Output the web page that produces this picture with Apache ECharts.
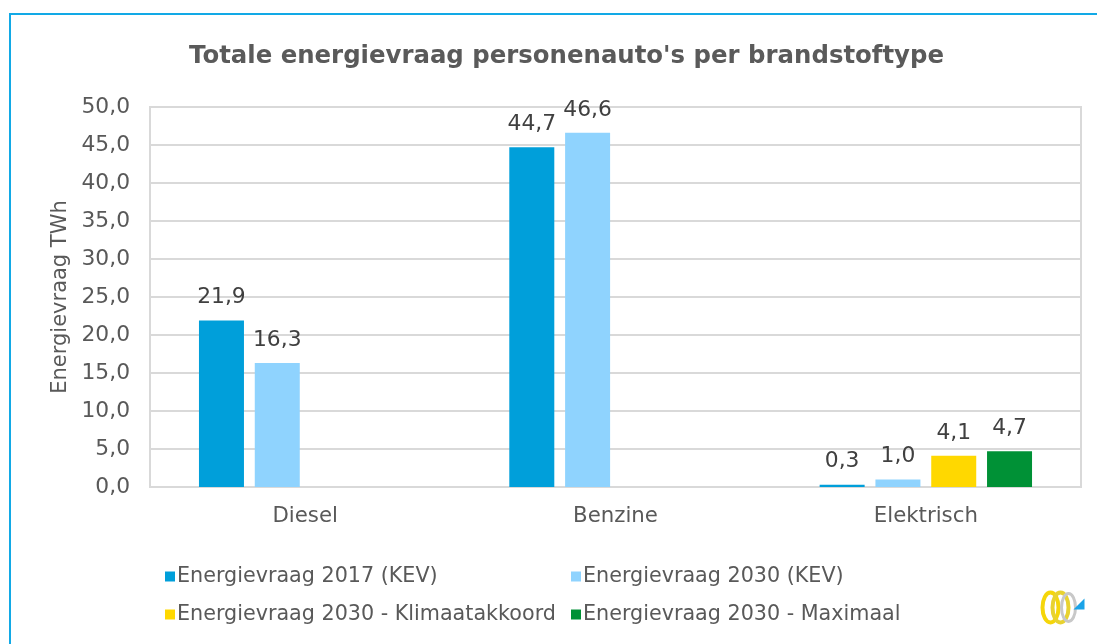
<!DOCTYPE html>
<html>
<head>
<meta charset="utf-8">
<script src="https://cdn.jsdelivr.net/npm/echarts@6/dist/echarts.min.js"></script>
<style>
html,body{margin:0;padding:0;background:#fff;}
#chart{width:1097px;height:644px;}
</style>
</head>
<body>
<div id="chart"></div>
<script>
const titleText = "Totale energievraag personenauto's per brandstoftype";
const yAxisName = 'Energievraag TWh';
const categories = ['Diesel', 'Benzine', 'Elektrisch'];
const seriesNames = [
  'Energievraag 2017 (KEV)',
  'Energievraag 2030 (KEV)',
  'Energievraag 2030 - Klimaatakkoord',
  'Energievraag 2030 - Maximaal'
];
const values2017 = [21.9, 44.7, 0.3];
const values2030 = [16.3, 46.6, 1.0];
const valuesKlimaat = [null, null, 4.1];
const valuesMaximaal = [null, null, 4.7];
const seriesColors = ['#009fda', '#8fd3fe', '#ffd800', '#009136'];
const yMin = 0, yMax = 50, yStep = 5;

const fmt = v => v.toFixed(1).replace('.', ',');
const allValues = [values2017, values2030, valuesKlimaat, valuesMaximaal];
const FONT = 'DejaVu Sans';

const chart = echarts.init(document.getElementById('chart'), null, {renderer: 'canvas'});
chart.setOption({
  animation: false,
  backgroundColor: '#ffffff',
  textStyle: {fontFamily: FONT},
  title: {
    text: titleText,
    left: 184,
    top: 40,
    textStyle: {fontFamily: FONT, fontSize: 24.4, fontWeight: 'bold', color: '#5a5a5a'}
  },
  legend: [
    {
      data: [seriesNames[0], seriesNames[2]],
      orient: 'vertical',
      left: 160,
      top: 561,
      itemWidth: 10,
      itemHeight: 10,
      itemGap: 17,
      icon: 'rect',
      textStyle: {fontFamily: FONT, fontSize: 20.7, color: '#595959', padding: [0, 0, 0, -3]}
    },
    {
      data: [seriesNames[1], seriesNames[3]],
      orient: 'vertical',
      left: 566,
      top: 561,
      itemWidth: 10,
      itemHeight: 10,
      itemGap: 17,
      icon: 'rect',
      textStyle: {fontFamily: FONT, fontSize: 20.7, color: '#595959', padding: [0, 0, 0, -3]}
    }
  ],
  grid: {
    left: 150, top: 107, width: 931, height: 380,
    show: true, borderColor: '#d9d9d9', borderWidth: 2, containLabel: false
  },
  xAxis: {
    type: 'category',
    data: categories,
    axisLine: {show: true, lineStyle: {color: '#d9d9d9', width: 2}},
    axisTick: {show: false},
    axisLabel: {fontFamily: FONT, fontSize: 21.3, color: '#595959', margin: 19}
  },
  yAxis: {
    type: 'value',
    min: yMin, max: yMax, interval: yStep,
    name: yAxisName,
    nameLocation: 'middle',
    nameGap: 75,
    nameTextStyle: {fontFamily: FONT, fontSize: 21, color: '#595959'},
    axisLine: {show: false},
    axisTick: {show: false},
    splitLine: {show: true, lineStyle: {color: '#d9d9d9', width: 2}},
    axisLabel: {fontFamily: FONT, fontSize: 21.8, color: '#595959', margin: 20, formatter: v => fmt(v)}
  },
  series: seriesNames.map((name, i) => ({
    name: name,
    type: 'bar',
    data: allValues[i].map(v => v === null ? '-' : v),
    barWidth: 45,
    barGap: '24%',
    itemStyle: {color: seriesColors[i]},
    label: {
      show: true,
      position: 'top',
      distance: 12,
      fontFamily: FONT,
      fontSize: 21.8,
      color: '#404040',
      formatter: p => fmt(p.value)
    }
  })),
  graphic: [
    {
      type: 'rect',
      shape: {x: 10, y: 14, width: 1200, height: 800},
      style: {fill: 'none', stroke: '#12a9e6', lineWidth: 2},
      silent: true
    },
    {
      type: 'group',
      left: 1040, top: 590,
      children: [
        {type: 'ellipse', shape: {cx: 12, cy: 18, rx: 8, ry: 15}, style: {fill: 'none', stroke: '#f5d60a', lineWidth: 4}},
        {type: 'ellipse', shape: {cx: 22, cy: 18, rx: 8, ry: 15}, style: {fill: 'none', stroke: '#e8d230', lineWidth: 4}},
        {type: 'ellipse', shape: {cx: 30, cy: 18, rx: 7, ry: 14}, style: {fill: 'none', stroke: '#c8c8c8', lineWidth: 3}},
        {type: 'polygon', shape: {points: [[35, 20], [46, 20], [46, 9]]}, style: {fill: '#1aa3e8'}}
      ]
    }
  ]
});
</script>
</body>
</html>
